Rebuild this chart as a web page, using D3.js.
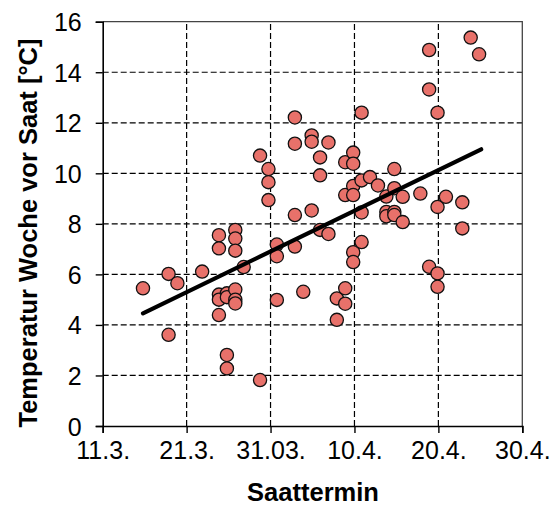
<!DOCTYPE html>
<html>
<head>
<meta charset="utf-8">
<script src="https://cdn.jsdelivr.net/npm/d3@7"></script>
<style>
  body { margin: 0; background: #fff; }
  svg { display: block; }
  text { font-family: Arial, "Liberation Sans", sans-serif; fill: #000; }
</style>
</head>
<body>
<svg></svg>
<script>
const width = 557,
  height = 506;

// x: days after 11.3., y: temperature in week before sowing [°C]
const xTickDays = [0, 10, 20, 30, 40, 50];
const xTickLabels = ["11.3.", "21.3.", "31.03.", "10.4.", "20.4.", "30.4."];
const yTicks = [0, 2, 4, 6, 8, 10, 12, 14, 16];

const sowDay = [
  4.8, 7.85, 8.9, 7.85, 11.85, 13.85, 13.85, 13.85, 13.85, 13.85,
  14.8, 14.8, 14.8, 14.8, 15.8, 15.8, 15.8, 15.8, 15.8, 15.8,
  16.8, 18.75, 18.75, 19.75, 19.75, 19.75, 20.75, 20.75, 20.75, 22.9,
  22.9, 22.9, 22.9, 23.9, 24.9, 24.9, 24.9, 25.9, 25.9, 25.9,
  26.9, 26.9, 27.9, 27.9, 28.9, 28.9, 28.9, 28.9, 29.85, 29.85,
  29.85, 29.85, 29.85, 29.85, 30.85, 30.85, 30.85, 30.85, 31.85, 32.8,
  33.8, 33.8, 33.8, 34.75, 34.75, 34.75, 34.75, 35.75, 35.75, 37.85,
  38.9, 38.9, 38.9, 39.9, 39.9, 39.9, 39.9, 40.9, 42.85, 42.85,
  43.85, 44.85
];
const temperature = [
  5.45, 6.02, 5.65, 3.61, 6.11, 7.55, 7.03, 5.2, 5.0, 4.39,
  5.25, 5.1, 2.81, 2.28, 7.76, 7.42, 6.94, 5.4, 5.0, 4.85,
  6.29, 10.7, 1.82, 10.17, 9.65, 8.94, 7.18, 6.72, 4.99, 12.21,
  11.17, 8.35, 7.1, 5.31, 11.5, 11.25, 8.53, 10.63, 9.92, 7.76,
  11.22, 7.6, 5.05, 4.2, 10.44, 9.14, 5.45, 4.84, 10.82, 10.38,
  9.5, 9.14, 6.88, 6.49, 12.4, 9.72, 8.45, 7.28, 9.85, 9.52,
  9.08, 8.47, 8.3, 10.17, 9.41, 8.47, 8.35, 9.07, 8.07, 9.2,
  14.88, 13.32, 6.3, 12.4, 8.67, 6.04, 5.51, 9.07, 8.85, 7.82,
  15.37, 14.71
];

// trend line end points [day, temperature]
const trendDay = [4.8, 45.1];
const trendTemp = [4.46, 10.95];

const svg = d3
  .select("svg")
  .attr("width", width)
  .attr("height", height);

const x = d3.scaleLinear().domain([0, 50]).range([102.7, 522.3]);
const y = d3.scaleLinear().domain([0, 16]).range([426, 21.7]);

const points = sowDay.map((d, i) => ({ day: d, temp: temperature[i] }));
const trend = trendDay.map((d, i) => ({ day: d, temp: trendTemp[i] }));

////////////////////////////// GRID //////////////////////////////
const grid = svg.append("g").attr("class", "grid");

grid
  .selectAll(".hgrid")
  .data(yTicks.slice(1, -1))
  .enter()
  .append("line")
  .attr("x1", x(0))
  .attr("x2", x(50))
  .attr("y1", d => y(d))
  .attr("y2", d => y(d))
  .attr("stroke", "#000")
  .attr("stroke-width", 1.2)
  .attr("stroke-dasharray", "6,3");

grid
  .selectAll(".vgrid")
  .data(xTickDays.slice(1, -1))
  .enter()
  .append("line")
  .attr("x1", d => x(d))
  .attr("x2", d => x(d))
  .attr("y1", y(0))
  .attr("y2", y(16))
  .attr("stroke", "#000")
  .attr("stroke-width", 1.2)
  .attr("stroke-dasharray", "6,3");

// top and right frame
svg
  .append("path")
  .attr("d", `M${x(0)},${y(16)}H${x(50)}V${y(0)}`)
  .attr("fill", "none")
  .attr("stroke", "#444")
  .attr("stroke-width", 1.3);

////////////////////////////// AXES //////////////////////////////
const xAxis = svg
  .append("g")
  .attr("transform", "translate(0," + y(0) + ")")
  .call(
    d3
      .axisBottom(x)
      .tickValues(xTickDays)
      .tickFormat((d, i) => xTickLabels[i])
      .tickSize(7)
      .tickPadding(6)
  );

const yAxis = svg
  .append("g")
  .attr("transform", "translate(" + x(0) + ",0)")
  .call(d3.axisLeft(y).tickValues(yTicks).tickSize(7).tickPadding(14));

[xAxis, yAxis].forEach(a => {
  a.select(".domain").attr("stroke", "#000").attr("stroke-width", 1.6);
  a.selectAll(".tick line").attr("stroke", "#000").attr("stroke-width", 1.4);
  a.selectAll(".tick text")
    .attr("font-size", 25)
    .attr("font-family", "Arial, 'Liberation Sans', sans-serif")
    .attr("fill", "#111");
});
yAxis.selectAll(".tick text").attr("dy", "0.36em");
xAxis.selectAll(".tick text").attr("dy", "0.78em");

////////////////////////////// TREND + POINTS //////////////////////////////
const line = d3
  .line()
  .x(d => x(d.day))
  .y(d => y(d.temp));

svg
  .append("g")
  .selectAll("circle")
  .data(points)
  .enter()
  .append("circle")
  .attr("cx", d => x(d.day))
  .attr("cy", d => y(d.temp))
  .attr("r", 6.6)
  .attr("fill", "#e8716a")
  .attr("stroke", "#111")
  .attr("stroke-width", 1.3);

svg
  .append("path")
  .datum(trend)
  .attr("d", line)
  .attr("fill", "none")
  .attr("stroke", "#000")
  .attr("stroke-width", 4.2)
  .attr("stroke-linecap", "round");

////////////////////////////// TITLES //////////////////////////////
svg
  .append("text")
  .attr("x", 313)
  .attr("y", 501)
  .attr("text-anchor", "middle")
  .attr("font-size", 25.5)
  .attr("font-weight", "bold")
  .text("Saattermin");

svg
  .append("text")
  .attr("transform", "translate(37,233) rotate(-90)")
  .attr("text-anchor", "middle")
  .attr("font-size", 25.5)
  .attr("font-weight", "bold")
  .text("Temperatur Woche vor Saat [°C]");
</script>
</body>
</html>
